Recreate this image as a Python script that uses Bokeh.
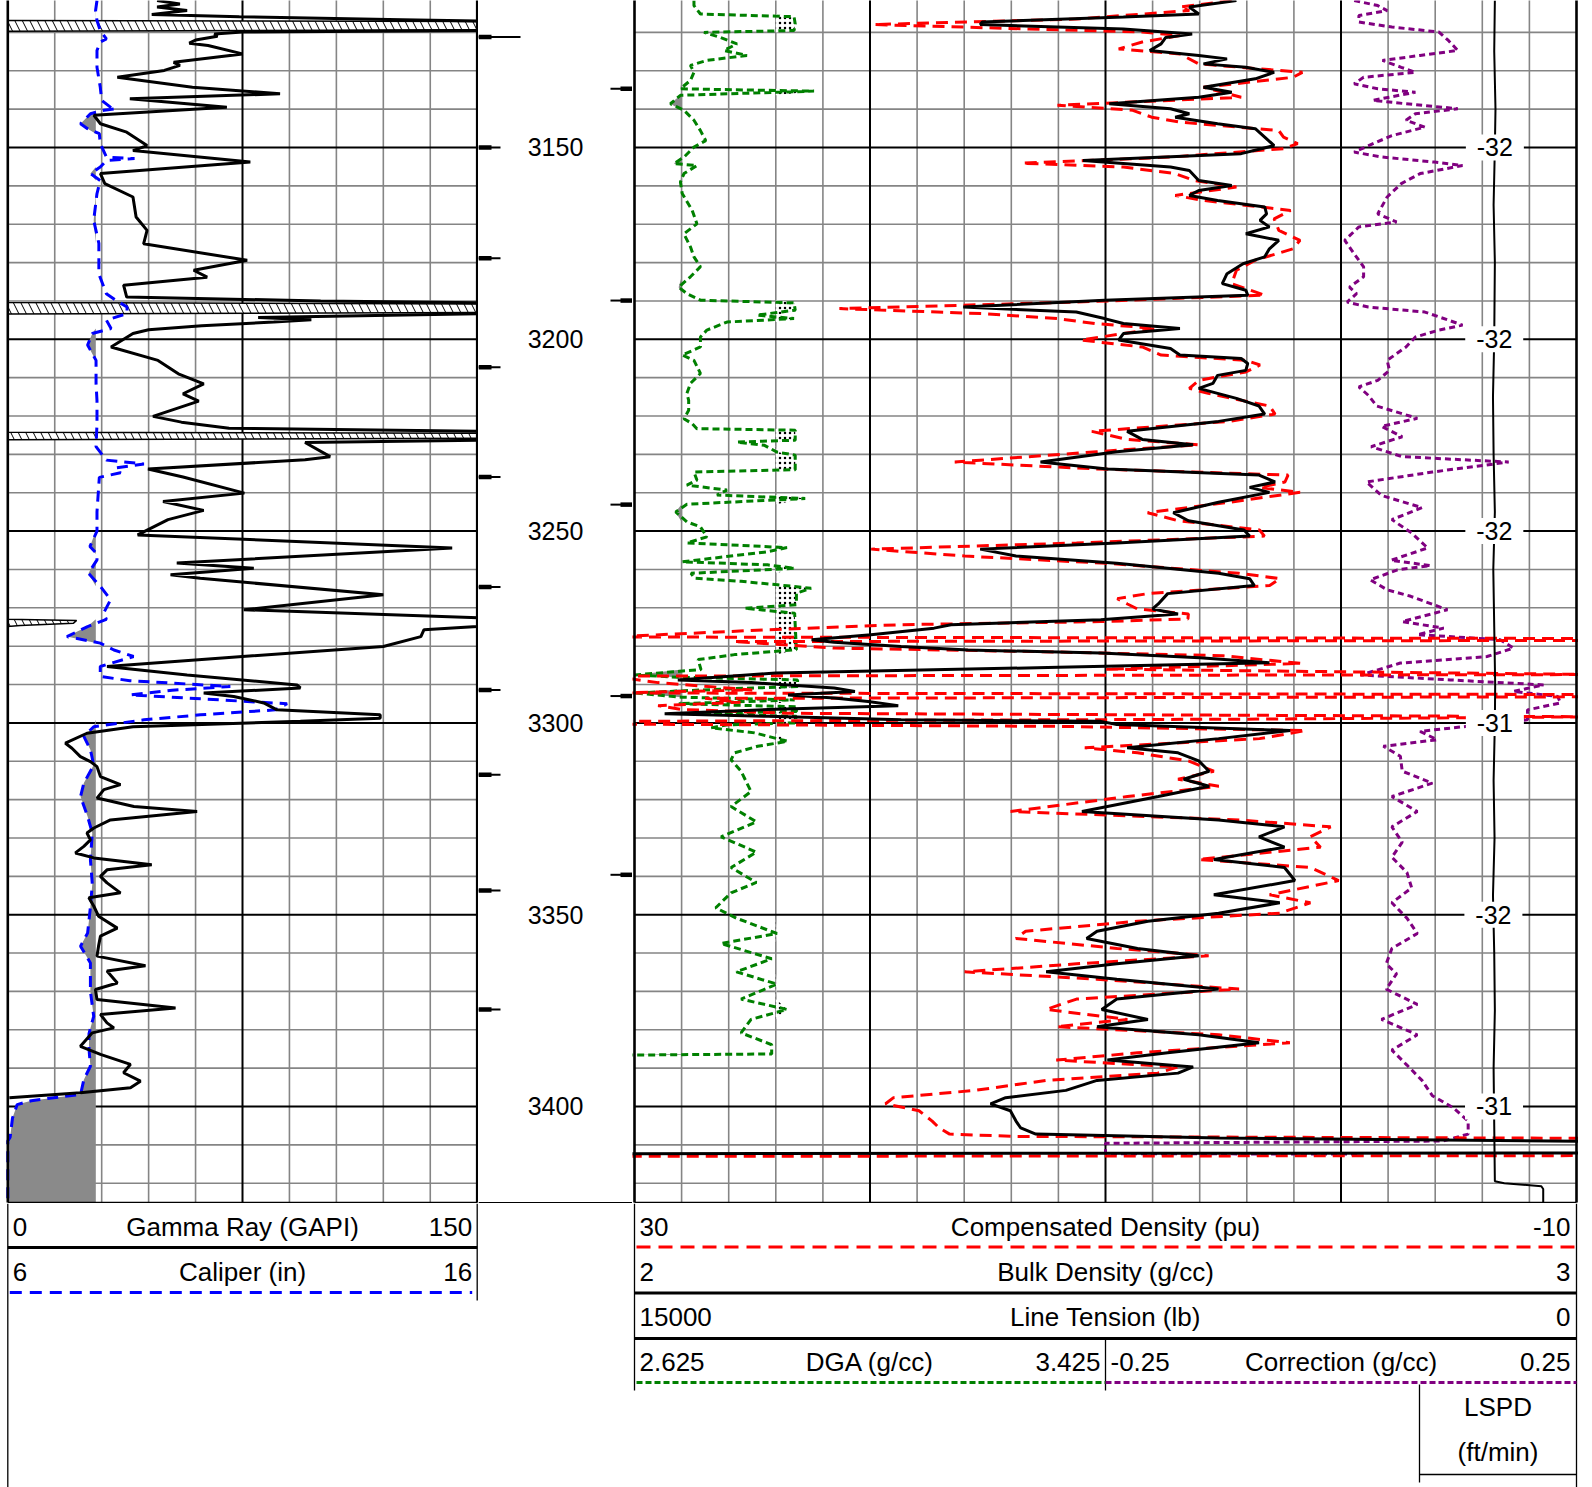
import numpy as np
from bokeh.plotting import figure
from bokeh.models import Range1d
from bokeh.layouts import column, row
from bokeh.embed import file_html
from bokeh.resources import INLINE
from bokeh.core.properties import value

FONT = "Liberation Sans"

# ------------------------------------------------------------------ data
# (depth ft, value) pairs read from the log
gr = [(3111.7, 47.7), (3112.6, 55), (3113.4, 47.7), (3114.3, 57.3), (3115.3, 46), (3115.9, 74),
      (3116.7, 126), (3117.1, 155), (3119.5, 155), (3119.9, 75), (3120.4, 66), (3121.0, 67),
      (3122.0, 60), (3122.8, 58), (3123.4, 64), (3125.6, 75), (3127.8, 53), (3128.6, 55),
      (3129.9, 50), (3131.7, 35), (3134.3, 59), (3136.0, 87), (3137.3, 39), (3139.5, 70),
      (3141.6, 27.5), (3143.8, 29.6), (3146.0, 38), (3149.5, 44.5), (3150.8, 40), (3153.8, 77.5),
      (3156.8, 29.6), (3159.4, 31), (3162.9, 40), (3168.1, 41), (3171.6, 44.5), (3175.1, 43.4),
      (3179.4, 76.5), (3182.0, 59.4), (3183.8, 63.7), (3185.9, 37), (3189.0, 38), (3190.0, 100),
      (3190.5, 155), (3193.3, 155), (3194.3, 80), (3194.9, 97), (3195.5, 85), (3196.5, 62),
      (3197.5, 45), (3198.5, 40), (3202.0, 33), (3205.5, 48), (3209.0, 54.5), (3211.6, 62.6),
      (3214.2, 56), (3216.1, 61), (3220.1, 46.4), (3221.6, 55.5), (3223.2, 70.7), (3224.0, 155),
      (3226.3, 155), (3226.9, 95), (3230.6, 103), (3231.4, 95), (3233.8, 44.8), (3235.9, 56),
      (3240.1, 75.6), (3242.3, 49.6), (3244.6, 62.6), (3247.0, 51.2), (3251.0, 41.5), (3254.4, 142),
      (3258.3, 54), (3259.7, 78.6), (3261.4, 52), (3262.3, 61.5), (3266.6, 120), (3270.5, 75.4),
      (3272.7, 155), (3274.9, 150), (3275.7, 133), (3277.5, 132), (3280.1, 120), (3282.7, 75),
      (3285.3, 31.7), (3287.5, 57.3), (3290.1, 92.4), (3290.9, 93.5), (3292.2, 62.6), (3293.1, 72.2),
      (3294.8, 81.8), (3296.6, 86), (3297.9, 119), (3298.8, 119), (3299.6, 93.5), (3301.0, 40),
      (3302.7, 25.3), (3305.3, 18.4), (3306.6, 20.5), (3308.8, 23.2), (3310.1, 26.4), (3311.4, 28.5),
      (3314.0, 29.6), (3316.1, 36), (3317.4, 30.7), (3319.6, 28.5), (3321.8, 40.3), (3323.1, 60.5),
      (3325.3, 32.8), (3327.4, 27.5), (3328.7, 25.3), (3330.5, 26.4), (3332.2, 24.3), (3333.9, 21.6),
      (3335.2, 27.5), (3337.0, 46), (3338.3, 31.7), (3340.0, 29.6), (3341.7, 31.7), (3344.3, 36),
      (3345.6, 25.9), (3347.8, 27.5), (3350.4, 29), (3353.5, 35), (3355.6, 29.6), (3358.2, 29),
      (3360.8, 28.5), (3363.3, 44), (3364.7, 31.7), (3367.8, 35), (3369.5, 28), (3372.1, 28.5),
      (3374.3, 53.6), (3376.0, 29.6), (3378.2, 31.7), (3379.5, 33.9), (3380.8, 27), (3384.3, 23.2),
      (3386.4, 29.6), (3389.0, 39.2), (3391.2, 37), (3393.4, 42.4), (3395.1, 39.2), (3396.4, 23.2),
      (3397.7, 0.5)]

caliper = [(3111.7, 7.9), (3114.3, 7.87), (3116.9, 7.9), (3119.5, 7.97), (3121.7, 8.1), (3122.5, 7.97),
           (3124.7, 7.9), (3129.1, 7.9), (3134.3, 7.97), (3137.7, 8.0), (3139.6, 8.2), (3139.9, 8.3),
           (3140.3, 8.05), (3141.2, 7.76), (3143.8, 7.55), (3145.1, 7.7), (3146.4, 7.95), (3149.0, 7.97),
           (3152.5, 8.1), (3152.9, 8.7), (3153.4, 8.1), (3155.1, 7.97), (3156.8, 7.76), (3158.6, 7.97),
           (3162.0, 7.9), (3169.0, 7.83), (3175.0, 7.94), (3183.0, 7.94), (3188.1, 8.1), (3189.8, 8.3),
           (3191.6, 8.54), (3193.3, 8.54), (3195.0, 8.1), (3197.2, 8.2), (3198.5, 7.8), (3201.5, 7.7),
           (3205.5, 7.88), (3211.5, 7.88), (3216.0, 7.9), (3222.0, 7.9), (3228.0, 7.88), (3231.5, 8.1),
           (3232.5, 8.9), (3233.5, 8.3), (3234.8, 8.4), (3236.0, 7.95), (3245.0, 7.9), (3250.0, 7.9),
           (3254.0, 7.75), (3256.0, 7.9), (3257.5, 7.9), (3261.0, 7.72), (3264.4, 7.97), (3267.9, 8.19),
           (3271.4, 8.04), (3273.0, 8.1), (3274.9, 7.7), (3277.5, 7.26), (3279.2, 7.97), (3281.0, 8.26),
           (3282.7, 8.68), (3285.3, 7.97), (3287.9, 7.97), (3289.0, 8.6), (3290.5, 10.74), (3291.5, 9.5),
           (3292.7, 8.61), (3294.0, 10.5), (3295.0, 11.95), (3296.6, 11.7), (3297.9, 10.1), (3299.2, 8.9),
           (3301.0, 7.83), (3303.5, 7.62), (3307.0, 7.76), (3311.0, 7.83), (3315.7, 7.62), (3319.2, 7.55),
           (3324.4, 7.7), (3328.7, 7.8), (3335.7, 7.76), (3342.0, 7.8), (3348.0, 7.76), (3354.8, 7.7),
           (3358.2, 7.55), (3362.6, 7.76), (3370.0, 7.76), (3376.5, 7.83), (3381.0, 7.73), (3385.0, 7.73),
           (3389.5, 7.76), (3393.0, 7.62), (3396.9, 7.55), (3397.7, 6.98), (3398.5, 6.5), (3399.5, 6.2),
           (3403.0, 6.1), (3408.0, 6.05), (3409.0, 6.0), (3425.5, 6.0)]

# gamma-ray backup (GR - 150), shown as hatched bands
gr_backup = [(3116.9, 0), (3117.2, 160), (3119.3, 160), (3119.7, 0), (3190.4, 0), (3190.8, 160),
             (3193.0, 160), (3193.4, 0), (3224.2, 0), (3224.5, 160), (3225.8, 160), (3226.2, 0),
             (3273.0, 0), (3273.3, 22), (3274.0, 21), (3274.6, 4), (3274.9, 0)]

rhob = [(3111.7, 2.639), (3113.4, 2.589), (3115.2, 2.599), (3116.0, 2.519), (3117.3, 2.369), (3117.95, 2.367),
        (3119.1, 2.519), (3120.4, 2.592), (3121.3, 2.564), (3123.0, 2.559), (3124.7, 2.547), (3126.0, 2.599),
        (3126.9, 2.629), (3128.2, 2.604), (3129.1, 2.649), (3130.4, 2.679), (3132.1, 2.659), (3134.3, 2.604),
        (3135.6, 2.634), (3136.9, 2.599), (3138.6, 2.504), (3139.9, 2.569), (3141.2, 2.589), (3142.1, 2.574),
        (3143.8, 2.619), (3145.1, 2.659), (3147.3, 2.669), (3149.5, 2.679), (3151.6, 2.644), (3153.4, 2.476),
        (3155.1, 2.569), (3156.0, 2.589), (3158.6, 2.599), (3159.9, 2.634), (3161.2, 2.599), (3162.5, 2.589),
        (3163.8, 2.619), (3165.5, 2.669), (3167.3, 2.671), (3169.0, 2.664), (3170.7, 2.674), (3172.5, 2.649),
        (3174.2, 2.684), (3176.4, 2.674), (3178.5, 2.669), (3180.3, 2.646), (3182.9, 2.629), (3185.5, 2.624),
        (3187.2, 2.649), (3188.5, 2.651), (3189.8, 2.499), (3191.6, 2.349), (3192.9, 2.469), (3194.6, 2.499),
        (3195.9, 2.519), (3197.2, 2.579), (3198.5, 2.519), (3200.2, 2.514), (3202.4, 2.569), (3204.1, 2.579),
        (3205.0, 2.644), (3206.3, 2.651), (3208.1, 2.649), (3209.4, 2.619), (3211.5, 2.614), (3212.8, 2.599),
        (3214.1, 2.619), (3215.4, 2.639), (3217.4, 2.663), (3219.5, 2.669), (3221.4, 2.620), (3224.0, 2.523),
        (3226.1, 2.539), (3227.5, 2.593), (3229.3, 2.512), (3232.0, 2.431), (3233.8, 2.502), (3235.4, 2.663),
        (3237.2, 2.680), (3238.6, 2.653), (3239.9, 2.674), (3242.5, 2.620), (3245.2, 2.572), (3247.3, 2.588),
        (3249.7, 2.647), (3251.3, 2.653), (3253.1, 2.512), (3254.7, 2.367), (3256.5, 2.405), (3258.4, 2.512),
        (3261.0, 2.620), (3262.4, 2.653), (3264.2, 2.658), (3266.3, 2.566), (3269.0, 2.556), (3270.3, 2.550),
        (3271.6, 2.577), (3273.1, 2.495), (3274.4, 2.336), (3275.3, 2.318), (3277.0, 2.251), (3278.3, 2.188),
        (3279.0, 2.212), (3280.1, 2.283), (3281.0, 2.354), (3281.8, 2.495), (3283.0, 2.600), (3284.3, 2.674),
        (3285.5, 2.450), (3287.0, 2.150), (3288.8, 2.046), (3289.5, 2.124), (3290.9, 2.212), (3291.8, 2.234),
        (3292.7, 2.163), (3293.5, 2.212), (3294.4, 2.248), (3295.5, 2.280), (3296.5, 2.142), (3297.6, 2.032),
        (3298.3, 2.142), (3299.2, 2.283), (3299.6, 2.495), (3300.4, 2.512), (3302.0, 2.696), (3304.1, 2.620),
        (3306.5, 2.523), (3307.8, 2.577), (3309.9, 2.599), (3312.6, 2.610), (3314.7, 2.583), (3316.5, 2.610),
        (3319.2, 2.556), (3323.1, 2.475), (3325.3, 2.620), (3327.1, 2.690), (3329.7, 2.663), (3332.4, 2.690),
        (3335.6, 2.615), (3337.7, 2.690), (3341.1, 2.701), (3344.8, 2.615), (3346.9, 2.685), (3349.6, 2.620),
        (3351.7, 2.545), (3354.3, 2.491), (3356.2, 2.480), (3358.8, 2.534), (3360.7, 2.599), (3362.8, 2.512),
        (3364.9, 2.437), (3366.8, 2.512), (3369.4, 2.620), (3372.0, 2.512), (3374.7, 2.496), (3377.3, 2.545),
        (3379.2, 2.491), (3381.3, 2.599), (3383.4, 2.663), (3386.0, 2.566), (3387.9, 2.502), (3389.7, 2.593),
        (3391.3, 2.577), (3393.2, 2.491), (3395.8, 2.458), (3397.7, 2.394), (3399.3, 2.378), (3401.1, 2.399),
        (3403.8, 2.405), (3405.6, 2.410), (3407.2, 2.426), (3408.2, 2.620), (3409.2, 3.05), (3412.1, 3.05),
        (3412.3, 1.95)]

dphi = [(3111.7, 4.64), (3113.4, 6.84), (3114.3, 6.44), (3116.5, 11.24), (3117.95, 19.84), (3119.1, 13.24),
        (3119.9, 8.44), (3120.8, 6.84), (3122.5, 8.44), (3124.3, 9.44), (3125.6, 6.84), (3128.2, 6.04),
        (3130.4, 1.64), (3131.7, 2.04), (3134.3, 5.84), (3136.9, 4.24), (3139.0, 12.04), (3140.3, 8.84),
        (3142.1, 8.04), (3143.4, 6.84), (3145.6, 2.64), (3147.3, 2.44), (3149.0, 1.84), (3150.3, 2.44),
        (3152.5, 7.24), (3154.1, 13.54), (3155.1, 9.24), (3156.8, 7.04), (3158.6, 6.24), (3160.3, 4.44),
        (3162.5, 7.04), (3163.8, 5.84), (3166.4, 2.14), (3168.6, 2.84), (3171.6, 2.64), (3174.2, 1.74),
        (3176.4, 2.04), (3179.4, 3.64), (3182.0, 4.44), (3185.5, 4.64), (3188.5, 3.24), (3190.3, 11.24),
        (3192.0, 21.3), (3193.3, 15.24), (3194.6, 12.04), (3195.9, 10.44), (3197.2, 7.84), (3198.5, 9.24),
        (3200.2, 11.04), (3202.0, 8.44), (3204.1, 7.64), (3205.5, 4.04), (3206.7, 3.44), (3208.5, 4.04),
        (3210.7, 6.04), (3212.8, 6.44), (3214.1, 5.64), (3215.4, 4.64), (3217.4, 3.03), (3219.5, 2.8),
        (3221.4, 4.76), (3224.0, 10.58), (3226.1, 9.07), (3227.5, 6.05), (3229.3, 10.37), (3232.0, 16.4),
        (3233.8, 10.37), (3235.4, 2.25), (3237.2, 2.38), (3238.6, 3.46), (3239.9, 1.74), (3242.5, 4.76),
        (3245.2, 8.21), (3247.3, 6.92), (3249.7, 3.46), (3251.3, 3.25), (3253.1, 11.23), (3254.7, 19.95),
        (3256.5, 15.98), (3258.4, 9.94), (3261.0, 4.33), (3262.4, 2.6), (3264.2, 3.03), (3266.3, 8.21),
        (3267.6, 9.5), (3269.0, 9.07), (3270.3, 8.64), (3271.6, 6.48), (3272.9, 6.5), (3273.6, 10.2),
        (3274.4, 18.7), (3275.7, 24.3), (3277.6, 31), (3278.0, -11), (3278.5, -11), (3278.8, 25.8),
        (3280.5, 21.5), (3281.4, 13), (3282.5, 5), (3284.5, 1.7), (3286.0, 10), (3287.4, -11),
        (3287.8, 31), (3289.5, 29), (3291.4, 25), (3292.2, 31), (3292.6, -11), (3293.2, -11),
        (3293.6, 27), (3294.6, 25.5), (3295.5, 29), (3296.5, 28), (3297.5, 23.5), (3298.4, -11),
        (3299.0, 3), (3299.6, 31), (3300.3, 31), (3300.9, 12), (3302.0, 1.5), (3304.1, 3.46),
        (3306.5, 10.88), (3307.8, 8.64), (3309.9, 6.48), (3312.6, 5.4), (3314.7, 6.92), (3316.5, 5.19),
        (3319.2, 9.07), (3323.1, 14.03), (3325.3, 4.33), (3327.1, 0.44), (3329.7, 1.3), (3332.4, 0.87),
        (3335.6, 6.05), (3337.7, 1.3), (3341.1, 0.1), (3344.8, 3.03), (3346.9, 1.3), (3349.6, 2.6),
        (3351.7, 8.64), (3354.3, 13.39), (3356.2, 13.8), (3358.8, 9.5), (3360.7, 5.62), (3362.8, 11.23),
        (3364.9, 15.98), (3366.8, 10.37), (3369.4, 4.33), (3372.0, 11.23), (3374.7, 12.52), (3377.3, 9.07),
        (3379.2, 12.09), (3381.3, 5.19), (3383.4, 2.17), (3386.0, 8.64), (3387.9, 12.09), (3389.7, 6.92),
        (3391.3, 7.78), (3393.2, 12.52), (3395.8, 15.54), (3397.7, 19.0), (3399.3, 19.34), (3401.1, 17.92),
        (3403.8, 17.36), (3405.6, 17.06), (3407.2, 16.62), (3407.8, 13.8), (3408.3, -11), (3412.8, -11),
        (3413.0, 32)]

dga = [(3111.7, 2.726), (3113.0, 2.726), (3115.2, 2.737), (3115.9, 2.896), (3117.8, 2.898), (3119.5, 2.896),
       (3120.0, 2.743), (3121.3, 2.771), (3123.0, 2.799), (3124.7, 2.777), (3126.0, 2.816), (3127.3, 2.748),
       (3128.6, 2.72), (3130.4, 2.726), (3132.5, 2.72), (3134.7, 2.703), (3135.3, 2.93), (3136.4, 2.703),
       (3138.6, 2.686), (3140.3, 2.709), (3142.9, 2.726), (3145.6, 2.737), (3148.2, 2.746), (3149.9, 2.726),
       (3152.5, 2.709), (3154.2, 2.692), (3154.7, 2.731), (3156.8, 2.709), (3159.0, 2.703), (3162.0, 2.706),
       (3166.4, 2.723), (3169.9, 2.731), (3172.5, 2.709), (3175.9, 2.72), (3178.5, 2.726), (3181.1, 2.737),
       (3183.7, 2.72), (3186.4, 2.7), (3188.1, 2.714), (3189.8, 2.737), (3190.5, 2.896), (3192.4, 2.898),
       (3193.7, 2.833), (3194.6, 2.896), (3195.5, 2.782), (3197.6, 2.748), (3199.4, 2.737), (3202.0, 2.737),
       (3204.1, 2.706), (3205.5, 2.726), (3208.9, 2.737), (3211.5, 2.72), (3214.1, 2.714), (3215.9, 2.717),
       (3218.5, 2.717), (3220.7, 2.709), (3222.0, 2.723), (3223.3, 2.731), (3223.7, 2.898), (3226.3, 2.898),
       (3226.8, 2.799), (3227.6, 2.845), (3229.4, 2.867), (3230.2, 2.898), (3234.0, 2.898), (3234.6, 2.726),
       (3236.7, 2.731), (3238.0, 2.714), (3239.3, 2.782), (3240.6, 2.765), (3241.5, 2.915), (3243.0, 2.714),
       (3245.0, 2.695), (3247.6, 2.714), (3248.9, 2.737), (3251.5, 2.748), (3253.1, 2.714), (3254.3, 2.884),
       (3255.4, 2.85), (3258.0, 2.706), (3258.8, 2.851), (3259.7, 2.897), (3261.0, 2.721), (3262.3, 2.727),
       (3263.1, 2.806), (3264.0, 2.868), (3264.9, 2.925), (3266.2, 2.9), (3269.2, 2.9), (3270.1, 2.812),
       (3271.4, 2.897), (3280.9, 2.9), (3282.2, 2.795), (3283.5, 2.733), (3286.1, 2.738), (3287.5, 2.625),
       (3288.1, 2.699), (3288.8, 2.902), (3290.5, 2.902), (3291.2, 2.772), (3292.2, 2.625), (3293.3, 2.704),
       (3294.0, 2.897), (3295.0, 2.70), (3295.8, 2.90), (3297.0, 2.90), (3297.6, 2.72), (3298.3, 2.90),
       (3300.0, 2.897), (3300.5, 2.783), (3301.3, 2.755), (3302.6, 2.829), (3304.8, 2.885), (3306.1, 2.834),
       (3307.8, 2.795), (3309.6, 2.789), (3312.6, 2.806), (3317.9, 2.823), (3321.8, 2.789), (3325.8, 2.832),
       (3329.7, 2.772), (3333.7, 2.832), (3337.7, 2.789), (3341.6, 2.832), (3344.3, 2.789), (3348.2, 2.763),
       (3350.9, 2.798), (3354.9, 2.867), (3357.5, 2.772), (3361.5, 2.858), (3364.9, 2.798), (3368.1, 2.867),
       (3372.0, 2.806), (3374.7, 2.884), (3377.3, 2.823), (3380.8, 2.806), (3383.9, 2.858), (3386.3, 2.858),
       (3386.6, 2.615)]

drho = [(3111.7, 0.014), (3113.0, 0.039), (3114.3, 0.049), (3115.6, 0.019), (3117.3, 0.019), (3118.6, 0.054),
        (3119.9, 0.104), (3122.1, 0.114), (3124.7, 0.124), (3126.0, 0.084), (3127.3, 0.044), (3129.1, 0.064),
        (3130.4, 0.079), (3131.7, 0.024), (3133.4, 0.014), (3134.7, 0.039), (3135.6, 0.079), (3137.7, 0.034),
        (3138.6, 0.069), (3139.9, 0.124), (3141.2, 0.079), (3142.9, 0.069), (3144.7, 0.089), (3146.9, 0.054),
        (3149.0, 0.034), (3151.2, 0.014), (3152.5, 0.044), (3153.8, 0.099), (3154.7, 0.129), (3156.8, 0.084),
        (3159.4, 0.064), (3162.9, 0.049), (3167.3, 0.039), (3169.4, 0.059), (3170.7, 0.019), (3174.2, 0.004),
        (3177.7, 0.014), (3181.1, 0.024), (3183.7, 0.024), (3186.4, 0.009), (3188.1, 0.0165), (3190.3, 0.0065),
        (3191.6, 0.029), (3192.9, 0.089), (3195.0, 0.114), (3196.3, 0.129), (3197.6, 0.104), (3199.4, 0.079),
        (3202.0, 0.069), (3205.5, 0.049), (3208.1, 0.0515), (3210.7, 0.039), (3212.4, 0.019), (3214.6, 0.029),
        (3217.4, 0.038), (3220.6, 0.081), (3222.7, 0.043), (3225.4, 0.065), (3228.0, 0.032), (3230.6, 0.065),
        (3232.0, 0.178), (3234.6, 0.097), (3237.2, 0.027), (3240.7, 0.043), (3243.9, 0.086), (3247.0, 0.054),
        (3250.5, 0.075), (3254.4, 0.092), (3257.6, 0.053), (3259.0, 0.095), (3260.1, 0.06), (3262.7, 0.031),
        (3265.3, 0.049), (3267.0, 0.074), (3270.5, 0.113), (3273.6, 0.065), (3275.3, 0.109), (3277.0, 0.081),
        (3278.3, 0.169), (3280.5, 0.183), (3282.7, 0.155), (3284.4, 0.063), (3287.5, 0.021), (3288.8, 0.116),
        (3290.1, 0.215), (3291.8, 0.183), (3293.1, 0.230), (3294.8, 0.233), (3296.6, 0.198), (3299.2, 0.198),
        (3300.9, 0.134), (3302.2, 0.084), (3304.4, 0.102), (3306.1, 0.045), (3308.7, 0.063), (3312.6, 0.065),
        (3315.7, 0.097), (3319.2, 0.054), (3323.1, 0.081), (3327.1, 0.054), (3331.1, 0.065), (3335.0, 0.054),
        (3339.0, 0.07), (3343.0, 0.075), (3346.9, 0.054), (3350.9, 0.07), (3354.9, 0.081), (3358.8, 0.054),
        (3362.8, 0.048), (3365.4, 0.059), (3369.4, 0.048), (3373.4, 0.081), (3377.3, 0.043), (3381.3, 0.081),
        (3385.3, 0.054), (3389.2, 0.07), (3393.2, 0.086), (3397.2, 0.097), (3400.3, 0.119), (3403.8, 0.135),
        (3407.2, 0.135), (3409.0, 0.108), (3409.6, -0.25), (3412.3, -0.25), (3412.4, 0.02)]

tension = [(3111.7, 1300), (3125.0, 1310), (3140.0, 1290), (3150.0, 1300), (3165.0, 1320), (3180.0, 1300),
           (3200.0, 1310), (3215.0, 1330), (3230.0, 1320), (3245.0, 1300), (3260.0, 1325), (3275.0, 1310),
           (3290.0, 1295), (3300.0, 1300), (3315.0, 1320), (3330.0, 1305), (3345.0, 1330), (3360.0, 1310),
           (3375.0, 1300), (3390.0, 1320), (3405.0, 1310), (3419.5, 1300), (3420.0, 1150), (3420.8, 560),
           (3421.5, 530), (3425.5, 530)]

lspd_depth = [3150, 3200, 3250, 3300, 3350, 3400]
lspd_text = ["-32", "-32", "-32", "-31", "-32", "-31"]
depth_labels = [3150, 3200, 3250, 3300, 3350, 3400]
left_marks = [3121.2, 3150.0, 3178.9, 3207.3, 3235.9, 3264.6, 3291.4, 3313.5, 3343.7, 3374.7]
right_marks = [3134.7, 3189.9, 3243.1, 3293.0, 3339.6]
bit_size = 7.875
dga_low_cut = 2.705
dga_high_cut = 2.865

# ------------------------------------------------------------------ geometry (page has no margin)
PX_PER_FT = 3.836
TRACK_H = 1203
D_TOP = 3111.68
D_BOT = D_TOP + TRACK_H / PX_PER_FT
D_END = D_TOP + 1202 / PX_PER_FT          # bottom border of the tracks
W1, W0, W2 = 478, 154, 946
T1L, T1R = 7.3, 476.7                      # track-1 edges inside its figure
T2L, T2R = 2.0, 944.0                      # track-2 edges inside its figure
T2C = (T2L + T2R) / 2


def unz(pairs):
    d, v = zip(*pairs)
    return np.array(d, dtype=float), np.array(v, dtype=float)


def rng(v_left, v_right, px_left, px_right, width):
    s = (v_right - v_left) / (px_right - px_left)
    return Range1d(start=v_left - px_left * s, end=v_left + (width - px_left) * s)


def make_fig(width, height, x_range, y_range):
    p = figure(width=width, height=height, x_range=x_range, y_range=y_range,
               output_backend="svg", toolbar_location=None, title=None,
               x_axis_location=None, y_axis_location=None, min_border=0)
    p.min_border_left = p.min_border_right = p.min_border_top = p.min_border_bottom = 0
    p.outline_line_color = None
    p.background_fill_color = "white"
    p.border_fill_color = "white"
    p.xgrid.visible = False
    p.ygrid.visible = False
    return p


GRID_MINOR = "#858585"
hd = list(range(3120, 3421, 10))
h_minor = [d for d in hd if d % 50]
h_major = [d for d in hd if d % 50 == 0]

# ------------------------------------------------------------------ track 1
p1 = make_fig(W1, TRACK_H, rng(0, 150, T1L, T1R, W1), Range1d(D_BOT, D_TOP))
p1.extra_x_ranges = {"cal": rng(6, 16, T1L, T1R, W1)}

v_minor = [v for v in range(15, 150, 15) if v != 75]
p1.segment(x0=v_minor, x1=v_minor, y0=D_TOP - 5, y1=D_END, line_color=GRID_MINOR, line_width=1.6)
p1.segment(x0=0, x1=150, y0=h_minor, y1=h_minor, line_color=GRID_MINOR, line_width=1.6)
p1.segment(x0=[75], x1=[75], y0=D_TOP - 5, y1=D_END, line_color="black", line_width=2)
p1.segment(x0=0, x1=150, y0=h_major, y1=h_major, line_color="black", line_width=2)

cal_d, cal_v = unz(caliper)
p1.harea(x1=np.minimum(cal_v, bit_size), x2=np.full(len(cal_v), bit_size), y=cal_d,
         x_range_name="cal", fill_color="#8a8a8a", fill_alpha=1.0)

bk_d, bk_v = unz(gr_backup)
p1.harea(x1=np.zeros(len(bk_v)), x2=bk_v, y=bk_d, fill_color="white",
         hatch_pattern="\\", hatch_color="black", hatch_scale=15, hatch_weight=1.0)
p1.line(bk_v, bk_d, line_color="black", line_width=1.5)

p1.line(cal_v, cal_d, x_range_name="cal", line_color="#0000ff", line_width=3, line_dash="11 7")
gr_d, gr_v = unz(gr)
p1.line(gr_v, gr_d, line_color="black", line_width=3)

p1.segment(x0=[0, 150], x1=[0, 150], y0=D_TOP - 5, y1=D_END, line_color="black", line_width=2.6)
p1.segment(x0=[0], x1=[150], y0=D_END, y1=D_END, line_color="black", line_width=1.5)

# ------------------------------------------------------------------ depth track
p0 = make_fig(W0, TRACK_H, Range1d(0, W0), Range1d(D_BOT, D_TOP))
p0.segment(x0=0, x1=42, y0=left_marks[:1], y1=left_marks[:1], line_color="black", line_width=2)
p0.segment(x0=0, x1=22, y0=left_marks[1:], y1=left_marks[1:], line_color="black", line_width=2)
p0.segment(x0=0, x1=13, y0=left_marks, y1=left_marks, line_color="black", line_width=4.5)
p0.segment(x0=W0 - 22, x1=W0, y0=right_marks, y1=right_marks, line_color="black", line_width=2)
p0.segment(x0=W0 - 12, x1=W0, y0=right_marks, y1=right_marks, line_color="black", line_width=4.5)
p0.text(x=W0 / 2, y=depth_labels, text=[str(d) for d in depth_labels], text_font=value(FONT),
        text_font_size="25px", text_align="center", text_baseline="middle", text_color="black")
p0.segment(x0=[0], x1=[W0], y0=D_END, y1=D_END, line_color="black", line_width=1.2)

# ------------------------------------------------------------------ track 2
p2 = make_fig(W2, TRACK_H, rng(2, 3, T2L, T2R, W2), Range1d(D_BOT, D_TOP))
p2.extra_x_ranges = {
    "dphi": rng(30, -10, T2L, T2R, W2),
    "tens": rng(15000, 0, T2L, T2R, W2),
    "dga": rng(2.625, 3.425, T2L, T2C, W2),
    "drho": rng(-0.25, 0.25, T2C, T2R, W2),
}
vx = [round(2 + 0.05 * i, 2) for i in range(1, 20)]
vx_major = [vx[4], vx[9], vx[14]]
vx_minor = [v for v in vx if v not in vx_major]
p2.segment(x0=vx_minor, x1=vx_minor, y0=D_TOP - 5, y1=D_END, line_color=GRID_MINOR, line_width=1.6)
p2.segment(x0=2, x1=3, y0=h_minor, y1=h_minor, line_color=GRID_MINOR, line_width=1.6)
p2.segment(x0=vx_major, x1=vx_major, y0=D_TOP - 5, y1=D_END, line_color="black", line_width=2)
p2.segment(x0=2, x1=3, y0=h_major, y1=h_major, line_color="black", line_width=2)

dga_d, dga_v = unz(dga)
p2.harea(x1=np.minimum(dga_v, dga_low_cut), x2=np.full(len(dga_v), dga_low_cut), y=dga_d,
         x_range_name="dga", fill_color="#8a8a8a")
p2.harea(x1=np.full(len(dga_v), dga_high_cut), x2=np.maximum(dga_v, dga_high_cut), y=dga_d,
         x_range_name="dga", fill_color="white", hatch_pattern="dot", hatch_color="black",
         hatch_scale=5, hatch_weight=1.8)

p2.line(dga_v, dga_d, x_range_name="dga", line_color="#008000", line_width=3, line_dash="7 4")
dr_d, dr_v = unz(drho)
p2.line(dr_v, dr_d, x_range_name="drho", line_color="#800080", line_width=3, line_dash="6 4")
dp_d, dp_v = unz(dphi)
p2.line(dp_v, dp_d, x_range_name="dphi", line_color="#ff0000", line_width=3, line_dash="12 7")
rb_d, rb_v = unz(rhob)
p2.line(rb_v, rb_d, line_color="black", line_width=3)
te_d, te_v = unz(tension)
p2.line(te_v, te_d, x_range_name="tens", line_color="black", line_width=2)

lx = np.interp(lspd_depth, te_d, te_v)
p2.rect(x=lx, y=lspd_depth, width=58, height=26, width_units="screen", height_units="screen",
        x_range_name="tens", fill_color="white", line_color=None)
p2.text(x=lx, y=lspd_depth, text=lspd_text, x_range_name="tens", text_font=value(FONT),
        text_font_size="25px", text_align="center", text_baseline="middle", text_color="black")

p2.segment(x0=[2, 3], x1=[2, 3], y0=D_TOP - 5, y1=D_END, line_color="black", line_width=2.6)
p2.segment(x0=[2], x1=[3], y0=D_END, y1=D_END, line_color="black", line_width=1.5)

# ------------------------------------------------------------------ header (page-pixel frame)
HW, HH = W1 + W0 + W2, 1487 - TRACK_H
ph = make_fig(HW, HH, Range1d(0, HW), Range1d(TRACK_H + HH, TRACK_H))
X1L, X1R = T1L, T1R
X2L, X2R = W1 + W0 + T2L, W1 + W0 + T2R
X2C = (X2L + X2R) / 2
XLS = 1419

ph.segment(x0=[X1L, X1R, X2L, X2R, X2C, XLS], x1=[X1L, X1R, X2L, X2R, X2C, XLS],
           y0=[1203, 1203, 1203, 1203, 1338, 1384], y1=[1487, 1300, 1390, 1487, 1390, 1482],
           line_color="black", line_width=1.3)
ph.segment(x0=[XLS], x1=[X2R], y0=[1474], y1=[1474], line_color="black", line_width=1.3)
ph.segment(x0=[X1L, X2L, X2L], x1=[X1R, X2R, X2R], y0=[1247, 1292.5, 1338], y1=[1247, 1292.5, 1338],
           line_color="black", line_width=3)
ph.segment(x0=[X1L + 2], x1=[X1R - 5], y0=[1292], y1=[1292], line_color="#0000ff", line_width=3, line_dash="12 8")
ph.segment(x0=[X2L + 2], x1=[X2R], y0=[1246.5], y1=[1246.5], line_color="#ff0000", line_width=3, line_dash="14 8")
ph.segment(x0=[X2L + 2], x1=[X2C], y0=[1382], y1=[1382], line_color="#008000", line_width=3, line_dash="6 3")
ph.segment(x0=[X2C], x1=[X2R], y0=[1382], y1=[1382], line_color="#800080", line_width=3, line_dash="6 3")

hfont = dict(text_font=value(FONT), text_font_size="26px", text_baseline="middle", text_color="black")
ph.text(x=[X1L + 5, X1L + 5, X2L + 5, X2L + 5, X2L + 5, X2L + 5, X2C + 5],
        y=[1226, 1271, 1226, 1271, 1316, 1361, 1361],
        text=["0", "6", "30", "2", "15000", "2.625", "-0.25"], text_align="left", **hfont)
ph.text(x=[(X1L + X1R) / 2, (X1L + X1R) / 2, X2C, X2C, X2C, (X2L + X2C) / 2, (X2C + X2R) / 2,
           (XLS + X2R) / 2, (XLS + X2R) / 2],
        y=[1226, 1271, 1226, 1271, 1316, 1361, 1361, 1406, 1451],
        text=["Gamma Ray (GAPI)", "Caliper (in)", "Compensated Density (pu)", "Bulk Density (g/cc)",
              "Line Tension (lb)", "DGA (g/cc)", "Correction (g/cc)", "LSPD", "(ft/min)"],
        text_align="center", **hfont)
ph.text(x=[X1R - 5, X1R - 5, X2R - 6, X2R - 6, X2R - 6, X2C - 5, X2R - 6],
        y=[1226, 1271, 1226, 1271, 1316, 1361, 1361],
        text=["150", "16", "-10", "3", "0", "3.425", "0.25"], text_align="right", **hfont)

layout = column(row(p1, p0, p2), ph)
open("out.html", "w").write(file_html(layout, INLINE))
